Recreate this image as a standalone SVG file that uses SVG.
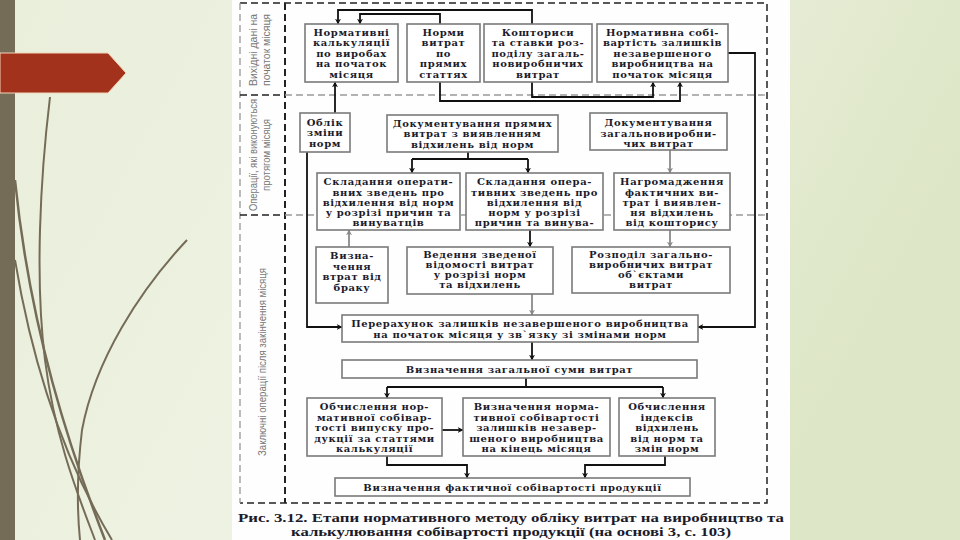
<svg xmlns="http://www.w3.org/2000/svg" width="960" height="540" viewBox="0 0 960 540">
<defs>
<linearGradient id="bg" x1="0" y1="0" x2="1" y2="0.3">
<stop offset="0" stop-color="#e9efdb"/>
<stop offset="0.5" stop-color="#eef2e2"/>
<stop offset="1" stop-color="#dde6c6"/>
</linearGradient>
<marker id="ah" viewBox="0 0 10 10" refX="9" refY="5" markerWidth="6" markerHeight="6" orient="auto" markerUnits="userSpaceOnUse">
<path d="M0,0 L10,5 L0,10 L3,5 z" fill="#111"/>
</marker>
<marker id="ahg" viewBox="0 0 10 10" refX="9" refY="5" markerWidth="6" markerHeight="6" orient="auto" markerUnits="userSpaceOnUse">
<path d="M0,0 L10,5 L0,10 L3,5 z" fill="#888"/>
</marker>
<style>
.bx{fill:#fff;stroke:#7a7a7a;stroke-width:1.6}
.t{font-family:"DejaVu Serif","Liberation Serif",serif;font-size:10px;font-weight:bold;fill:#1b1b2b;text-anchor:middle;letter-spacing:0.6px}
.lab{font-family:"Liberation Sans","DejaVu Sans",sans-serif;font-size:10px;fill:#777;text-anchor:middle}
.c{fill:none;stroke:#111;stroke-width:1.8}
.cg{fill:none;stroke:#8a8a8a;stroke-width:1.8}
.dk{fill:none;stroke:#222;stroke-width:1.5;stroke-dasharray:7,4}
.dg{fill:none;stroke:#999;stroke-width:1.3;stroke-dasharray:7,4}
.cap{font-family:"Liberation Serif","DejaVu Serif",serif;font-size:12.5px;font-weight:bold;fill:#1b1b2b;text-anchor:middle}
</style>
</defs>
<rect x="0" y="0" width="960" height="540" fill="url(#bg)"/>
<g id="decor">
<path d="M15,180 C30,330 70,450 105,540" fill="none" stroke="#756c58" stroke-width="2.5"/>
<path d="M50,97 C40,180 35,280 45,360 C55,440 80,500 95,540" fill="none" stroke="#756c58" stroke-width="2"/>
<path d="M15,260 C35,380 70,470 112,540" fill="none" stroke="#756c58" stroke-width="2"/>
<path d="M187,240 C140,290 95,360 82,430 C76,480 78,520 80,540" fill="none" stroke="#756c58" stroke-width="2"/>
<rect x="0" y="0" width="15" height="540" fill="#756c58"/>
<path d="M0,53 H108 L126,73 L108,93 H0 z" fill="#a2321b" stroke="#f3d3b8" stroke-width="1"/>
</g>
<rect x="232" y="0" width="558" height="540" fill="#fefefe"/>
<g id="frame">
<path class="dk" d="M240,3 H767 V503 H240"/>
<path class="dg" d="M240,3 V503"/>
<path class="dk" d="M285,3 V503" style="stroke-width:2"/>
<path class="dk" d="M240,95 H285"/>
<path class="dg" d="M285,95 H767"/>
<path class="dk" d="M240,215 H285"/>
<path class="dg" d="M285,215 H767"/>
</g>
<g id="labels">
<text class="lab" transform="translate(257,50) rotate(-90)" textLength="72" lengthAdjust="spacingAndGlyphs">Вихідні дані на</text>
<text class="lab" transform="translate(270,50) rotate(-90)" textLength="72" lengthAdjust="spacingAndGlyphs">початок місяця</text>
<text class="lab" transform="translate(257,155) rotate(-90)" textLength="112" lengthAdjust="spacingAndGlyphs">Операції, які виконуються</text>
<text class="lab" transform="translate(270,155) rotate(-90)" textLength="72" lengthAdjust="spacingAndGlyphs">протягом місяця</text>
<text class="lab" transform="translate(266,362) rotate(-90)" textLength="188" lengthAdjust="spacingAndGlyphs">Заключні операції після закінчення місяця</text>
</g>
<g id="connectors">
<path class="c" d="M532,24 V10 H338 V24" marker-end="url(#ah)"/>
<path class="c" d="M440,24 V14 H360 V24" marker-end="url(#ah)"/>
<path class="c" d="M440,82 V101 H680 V82" marker-end="url(#ah)"/>
<path class="c" d="M532,82 V97 H653 V82" marker-end="url(#ah)"/>
<path class="c" d="M728,53 H755 V327 H698" marker-end="url(#ah)"/>
<path class="c" d="M335,113 V82" marker-end="url(#ah)"/>
<path class="c" d="M307,152 V327 H342" marker-end="url(#ah)"/>
<path class="c" d="M468,152 V159 M412,159 H528"/>
<path class="c" d="M412,159 V173" marker-end="url(#ah)"/>
<path class="c" d="M528,159 V173" marker-end="url(#ah)"/>
<path class="cg" d="M670,150 V173" marker-end="url(#ahg)"/>
<path class="cg" d="M349,247 V230" marker-end="url(#ahg)"/>
<path class="c" d="M530,230 V247" marker-end="url(#ah)"/>
<path class="cg" d="M670,230 V247" marker-end="url(#ahg)"/>
<path class="cg" d="M532,294 V315" marker-end="url(#ahg)"/>
<path class="c" d="M532,342 V360" marker-end="url(#ah)"/>
<path class="c" d="M526,378 V387 M387,387 H663"/>
<path class="c" d="M387,387 V398" marker-end="url(#ah)"/>
<path class="c" d="M663,387 V398" marker-end="url(#ah)"/>
<path class="c" d="M442,430 H463" marker-end="url(#ah)"/>
<path class="c" d="M387,456 V465 H467 V478" marker-end="url(#ah)"/>
<path class="c" d="M665,456 V465 H585 V478" marker-end="url(#ah)"/>
</g>
<g id="n1"><rect class="bx" x="305" y="24" width="93" height="58"/>
<text class="t"><tspan x="351.5" y="35.5">Нормативні</tspan><tspan x="351.5" y="46">калькуляції</tspan><tspan x="351.5" y="56.5">по виробах</tspan><tspan x="351.5" y="67">на початок</tspan><tspan x="351.5" y="77.5">місяця</tspan></text></g>
<g id="n2"><rect class="bx" x="407" y="24" width="73" height="58"/>
<text class="t"><tspan x="443.5" y="35.5">Норми</tspan><tspan x="443.5" y="46">витрат</tspan><tspan x="443.5" y="56.5">по</tspan><tspan x="443.5" y="67">прямих</tspan><tspan x="443.5" y="77.5">статтях</tspan></text></g>
<g id="n3"><rect class="bx" x="484" y="24" width="108" height="58"/>
<text class="t"><tspan x="538" y="35.5">Кошториси</tspan><tspan x="538" y="46">та ставки роз-</tspan><tspan x="538" y="56.5">поділу загаль-</tspan><tspan x="538" y="67">новиробничих</tspan><tspan x="538" y="77.5">витрат</tspan></text></g>
<g id="n4"><rect class="bx" x="597" y="24" width="131" height="58"/>
<text class="t"><tspan x="662.5" y="35.5">Нормативна собі-</tspan><tspan x="662.5" y="46">вартість залишків</tspan><tspan x="662.5" y="56.5">незавершеного</tspan><tspan x="662.5" y="67">виробництва на</tspan><tspan x="662.5" y="77.5">початок місяця</tspan></text></g>
<g id="n5"><rect class="bx" x="300" y="113" width="50" height="39"/>
<text class="t"><tspan x="325" y="125.5">Облік</tspan><tspan x="325" y="136">зміни</tspan><tspan x="325" y="146.5">норм</tspan></text></g>
<g id="n6"><rect class="bx" x="387" y="115" width="171" height="37"/>
<text class="t"><tspan x="472.5" y="126.5">Документування прямих</tspan><tspan x="472.5" y="137">витрат з виявленням</tspan><tspan x="472.5" y="147.5">відхилень від норм</tspan></text></g>
<g id="n7"><rect class="bx" x="590" y="113" width="137" height="37"/>
<text class="t"><tspan x="658.5" y="126">Документування</tspan><tspan x="658.5" y="136.5">загальновиробни-</tspan><tspan x="658.5" y="147">чих витрат</tspan></text></g>
<g id="n8"><rect class="bx" x="317" y="173" width="143" height="57"/>
<text class="t"><tspan x="388.5" y="185">Складання операти-</tspan><tspan x="388.5" y="195.5">вних зведень про</tspan><tspan x="388.5" y="205.5">відхилення від норм</tspan><tspan x="388.5" y="215.5">у розрізі причин та</tspan><tspan x="388.5" y="226">винуватців</tspan></text></g>
<g id="n9"><rect class="bx" x="466" y="173" width="137" height="57"/>
<text class="t"><tspan x="534.5" y="185">Складання опера-</tspan><tspan x="534.5" y="195.5">тивних зведень про</tspan><tspan x="534.5" y="205.5">відхилення від</tspan><tspan x="534.5" y="215.5">норм у розрізі</tspan><tspan x="534.5" y="226">причин та винува-</tspan></text></g>
<g id="n10"><rect class="bx" x="614" y="173" width="116" height="57"/>
<text class="t"><tspan x="672" y="185">Нагромадження</tspan><tspan x="672" y="195.5">фактичних ви-</tspan><tspan x="672" y="205.5">трат і виявлен-</tspan><tspan x="672" y="215.5">ня відхилень</tspan><tspan x="672" y="226">від кошторису</tspan></text></g>
<g id="n11"><rect class="bx" x="316" y="247" width="72" height="56"/>
<text class="t"><tspan x="352" y="259">Визна-</tspan><tspan x="352" y="269.5">чення</tspan><tspan x="352" y="280">втрат від</tspan><tspan x="352" y="290.5">браку</tspan></text></g>
<g id="n12"><rect class="bx" x="407" y="247" width="146" height="47"/>
<text class="t"><tspan x="480" y="258">Ведення зведеної</tspan><tspan x="480" y="268">відомості витрат</tspan><tspan x="480" y="278">у розрізі норм</tspan><tspan x="480" y="288">та відхилень</tspan></text></g>
<g id="n13"><rect class="bx" x="572" y="247" width="158" height="46"/>
<text class="t"><tspan x="651" y="258">Розподіл загально-</tspan><tspan x="651" y="268">виробничих витрат</tspan><tspan x="651" y="278">об`єктами</tspan><tspan x="651" y="288">витрат</tspan></text></g>
<g id="n14"><rect class="bx" x="342" y="315" width="356" height="27"/>
<text class="t"><tspan x="520" y="327">Перерахунок залишків незавершеного виробництва</tspan><tspan x="520" y="337.5">на початок місяця у зв`язку зі змінами норм</tspan></text></g>
<g id="n15"><rect class="bx" x="342" y="360" width="355" height="18"/>
<text class="t" x="519.5" y="372.5">Визначення загальної суми витрат</text></g>
<g id="n16"><rect class="bx" x="307" y="398" width="135" height="58"/>
<text class="t"><tspan x="374.5" y="410">Обчислення нор-</tspan><tspan x="374.5" y="420.5">мативної собівар-</tspan><tspan x="374.5" y="431">тості випуску про-</tspan><tspan x="374.5" y="441.5">дукції за статтями</tspan><tspan x="374.5" y="452">калькуляції</tspan></text></g>
<g id="n17"><rect class="bx" x="463" y="398" width="147" height="58"/>
<text class="t"><tspan x="536.5" y="410">Визначення норма-</tspan><tspan x="536.5" y="420.5">тивної собівартості</tspan><tspan x="536.5" y="431">залишків незавер-</tspan><tspan x="536.5" y="441.5">шеного виробництва</tspan><tspan x="536.5" y="452">на кінець місяця</tspan></text></g>
<g id="n18"><rect class="bx" x="619" y="398" width="96" height="58"/>
<text class="t"><tspan x="667" y="410">Обчислення</tspan><tspan x="667" y="420.5">індексів</tspan><tspan x="667" y="431">відхилень</tspan><tspan x="667" y="441.5">від норм та</tspan><tspan x="667" y="452">змін норм</tspan></text></g>
<g id="n19"><rect class="bx" x="335" y="478" width="355" height="18"/>
<text class="t" x="512.5" y="490.5">Визначення фактичної собівартості продукції</text></g>
<g id="caption">
<text class="cap" x="511" y="522" textLength="546" lengthAdjust="spacingAndGlyphs">Рис. 3.12. Етапи нормативного методу обліку витрат на виробництво та</text>
<text class="cap" x="511" y="536" textLength="440" lengthAdjust="spacingAndGlyphs">калькулювання собівартості продукції (на основі 3, с. 103)</text>
</g>
</svg>
